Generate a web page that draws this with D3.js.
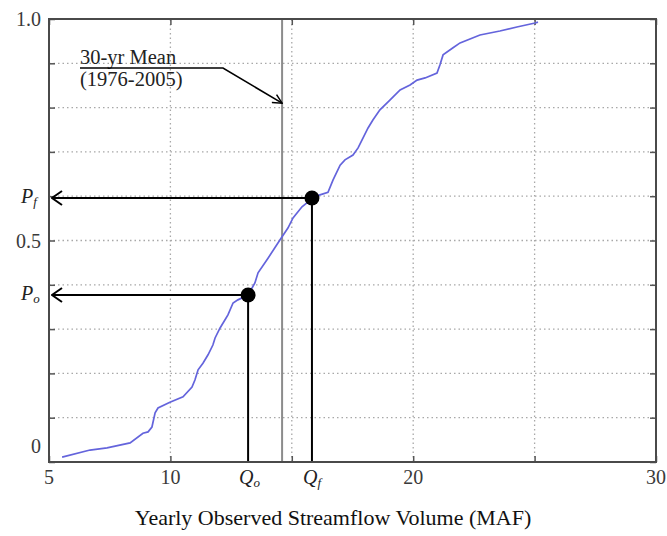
<!DOCTYPE html>
<html>
<head>
<meta charset="utf-8">
<script src="https://cdn.jsdelivr.net/npm/d3@7"></script>
<style>
  body { margin: 0; background: #fff; }
  svg { display: block; }
</style>
</head>
<body>
<div id="cdf_plot"></div>
<script>
// Empirical CDF of yearly streamflow volume (MAF)
const flowValues = [5.54, 6.69, 7.39, 8.34, 8.87, 9.08, 9.24, 9.37, 9.49, 9.98, 10.52, 10.89, 11.01, 11.14,
    11.34, 11.55, 11.75, 11.84, 12.04, 12.25, 12.37, 12.58, 12.78, 13.2, 13.48, 13.61, 14.02, 14.51, 14.84,
    15.05, 15.42, 15.67, 15.83, 16.16, 16.49, 16.7, 16.99, 17.19, 17.52, 17.73, 17.93, 18.14, 18.34, 18.63,
    19.04, 19.46, 19.87, 20.16, 20.49, 20.98, 21.1, 21.23, 21.64, 21.93, 22.75, 23.57, 24.27, 25.02, 25.14];
const cumProb = [0.011, 0.027, 0.032, 0.043, 0.065, 0.068, 0.079, 0.111, 0.122, 0.135, 0.147, 0.169, 0.185, 0.208,
    0.223, 0.242, 0.264, 0.28, 0.302, 0.321, 0.332, 0.359, 0.366, 0.377, 0.404, 0.427, 0.46, 0.501, 0.528,
    0.551, 0.576, 0.587, 0.596, 0.603, 0.609, 0.637, 0.67, 0.682, 0.693, 0.709, 0.731, 0.754, 0.772, 0.795,
    0.817, 0.84, 0.851, 0.862, 0.867, 0.878, 0.896, 0.919, 0.935, 0.946, 0.964, 0.973, 0.982, 0.991, 0.993];

// reference points
const meanFlow = 14.6;      // 30-yr mean (1976-2005)
const qObserved = 13.2, pObserved = 0.377;
const qForecast = 15.83, pForecast = 0.596;

// ticks / labels
const xGridTicks = [5, 10, 15, 20, 25, 30];
const yGridTicks = d3.range(0, 1.01, 0.1);
const xTickLabels = [5, 10, 20, 30];
const yTickLabels = [0, 0.5, 1.0];

const W = 667, H = 536;
const x = d3.scaleLinear().domain([5, 30]).range([49, 656]);
const y = d3.scaleLinear().domain([0, 1]).range([462, 19]);

const serif = "'Liberation Serif', 'Times New Roman', serif";

const svg = d3.select("#cdf_plot")
    .append("svg")
    .attr("width", W)
    .attr("height", H);

svg.append("rect").attr("width", W).attr("height", H).attr("fill", "#fff");

// arrowheads (open chevrons)
const defs = svg.append("defs");
defs.append("marker")
    .attr("id", "chev")
    .attr("viewBox", "0 0 12 16")
    .attr("refX", 1).attr("refY", 8)
    .attr("markerWidth", 12).attr("markerHeight", 16)
    .attr("markerUnits", "userSpaceOnUse")
    .attr("orient", "auto")
    .append("path")
        .attr("d", "M11,1 L1,8 L11,15")
        .attr("fill", "none")
        .attr("stroke", "#000")
        .attr("stroke-width", 2);
defs.append("marker")
    .attr("id", "chevSmall")
    .attr("viewBox", "0 0 12 12")
    .attr("refX", 11).attr("refY", 6)
    .attr("markerWidth", 11).attr("markerHeight", 11)
    .attr("markerUnits", "userSpaceOnUse")
    .attr("orient", "auto")
    .append("path")
        .attr("d", "M1,1 L11,6 L1,11")
        .attr("fill", "none")
        .attr("stroke", "#000")
        .attr("stroke-width", 1.6);

// dotted grid
const grid = svg.append("g")
    .attr("stroke", "#a8a8a8")
    .attr("stroke-width", 1.3)
    .attr("stroke-dasharray", "1.5,3");
grid.selectAll("line.h")
    .data(yGridTicks.slice(1, -1))
    .join("line")
        .attr("x1", x(5)).attr("x2", x(30))
        .attr("y1", d => y(d)).attr("y2", d => y(d));
grid.selectAll("line.v")
    .data(xGridTicks.slice(1, -1))
    .join("line")
        .attr("x1", d => x(d)).attr("x2", d => x(d))
        .attr("y1", y(0)).attr("y2", y(1));

// inward ticks on all four sides, labels drawn separately
const noLabel = () => "";
svg.append("g")
    .attr("transform", `translate(0, ${y(0)})`)
    .call(d3.axisBottom(x).tickValues(xGridTicks).tickSize(-6).tickFormat(noLabel));
svg.append("g")
    .attr("transform", `translate(0, ${y(1)})`)
    .call(d3.axisTop(x).tickValues(xGridTicks).tickSize(-6).tickFormat(noLabel));
svg.append("g")
    .attr("transform", `translate(${x(5)}, 0)`)
    .call(d3.axisLeft(y).tickValues(yGridTicks).tickSize(-6).tickFormat(noLabel));
svg.append("g")
    .attr("transform", `translate(${x(30)}, 0)`)
    .call(d3.axisRight(y).tickValues(yGridTicks).tickSize(-6).tickFormat(noLabel));
svg.selectAll(".domain").remove();
svg.selectAll(".tick line").attr("stroke", "#555").attr("stroke-width", 1.5);

// 30-yr mean line
svg.append("line")
    .attr("x1", x(meanFlow)).attr("x2", x(meanFlow))
    .attr("y1", y(0)).attr("y2", y(1))
    .attr("stroke", "#8c8c8c")
    .attr("stroke-width", 2);

// CDF curve
const pts = flowValues.map((v, i) => [v, cumProb[i]]);
svg.append("path")
    .datum(pts)
    .attr("fill", "none")
    .attr("stroke", "#6464dc")
    .attr("stroke-width", 1.7)
    .attr("d", d3.line().x(d => x(d[0])).y(d => y(d[1])));

// drop lines + arrows back to the probability axis
const refs = [[qObserved, pObserved], [qForecast, pForecast]];
const guides = svg.append("g").attr("stroke", "#000").attr("stroke-width", 2).attr("fill", "none");
refs.forEach(([q, p]) => {
    guides.append("line")
        .attr("x1", x(q)).attr("x2", x(q))
        .attr("y1", y(p)).attr("y2", y(0));
    guides.append("line")
        .attr("x1", x(5) + 3).attr("x2", x(q))
        .attr("y1", y(p)).attr("y2", y(p))
        .attr("marker-start", "url(#chev)");
});
svg.selectAll("circle.ref")
    .data(refs)
    .join("circle")
        .attr("cx", d => x(d[0]))
        .attr("cy", d => y(d[1]))
        .attr("r", 7.5)
        .attr("fill", "#000");

// axes frame
svg.append("rect")
    .attr("x", x(5)).attr("y", y(1))
    .attr("width", x(30) - x(5)).attr("height", y(0) - y(1))
    .attr("fill", "none")
    .attr("stroke", "#4a4a4a")
    .attr("stroke-width", 2);

// tick labels
svg.selectAll("text.xl")
    .data(xTickLabels)
    .join("text")
        .attr("x", d => x(d))
        .attr("y", y(0) + 22)
        .attr("text-anchor", "middle")
        .attr("font-family", serif)
        .attr("font-size", 20)
        .attr("fill", "#3a3a3a")
        .text(d => d);
svg.selectAll("text.yl")
    .data(yTickLabels)
    .join("text")
        .attr("x", 41)
        .attr("y", d => d === 0 ? y(d) - 9 : y(d) + 7)
        .attr("text-anchor", "end")
        .attr("font-family", serif)
        .attr("font-size", 20)
        .attr("fill", "#3a3a3a")
        .text(d => d === 0 ? "0" : d.toFixed(1));

// symbolic labels Q_o, Q_f, P_o, P_f
function subLabel(sel, main, sub) {
    sel.attr("font-family", serif)
        .attr("font-style", "italic")
        .attr("font-size", 20)
        .attr("fill", "#222");
    sel.append("tspan").text(main);
    sel.append("tspan").attr("font-size", 13).attr("dy", 3).text(sub);
}
[[qObserved, "o"], [qForecast, "f"]].forEach(([q, s]) => {
    svg.append("text")
        .attr("x", x(q) - 9)
        .attr("y", y(0) + 22)
        .call(subLabel, "Q", s);
});
[[pObserved, "o"], [pForecast, "f"]].forEach(([p, s]) => {
    svg.append("text")
        .attr("x", 21)
        .attr("y", y(p) + 5)
        .call(subLabel, "P", s);
});

// mean annotation
const note = svg.append("g").attr("font-family", serif).attr("font-size", 20.5).attr("fill", "#222");
note.append("text").attr("x", 80).attr("y", 64).text("30-yr Mean");
note.append("text").attr("x", 80).attr("y", 86).text("(1976-2005)");
svg.append("path")
    .attr("d", `M80,68 L223,68 L${x(meanFlow)},${y(0.81)}`)
    .attr("fill", "none")
    .attr("stroke", "#000")
    .attr("stroke-width", 1.6)
    .attr("marker-end", "url(#chevSmall)");

// axis title
svg.append("text")
    .attr("x", 333)
    .attr("y", 525)
    .attr("text-anchor", "middle")
    .attr("font-family", serif)
    .attr("font-size", 22)
    .attr("fill", "#111")
    .text("Yearly Observed Streamflow Volume (MAF)");
</script>
</body>
</html>
